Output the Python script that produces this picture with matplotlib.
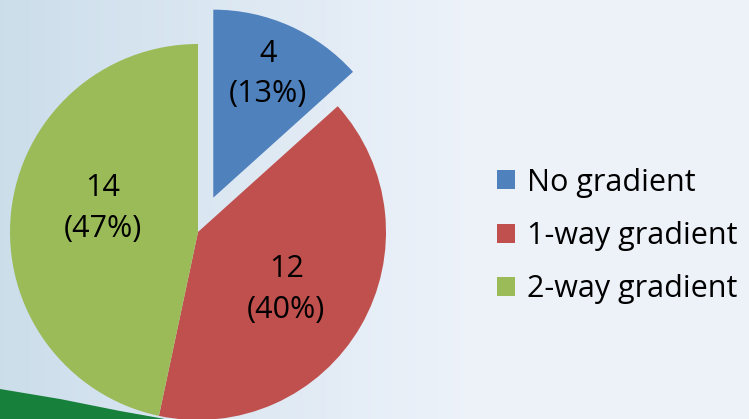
import numpy as np
from matplotlib import pyplot as plt
from matplotlib.patches import Polygon

# data
labels = ["No gradient", "1-way gradient", "2-way gradient"]
counts = [4, 12, 14]
colors = ["#4f81bd", "#c0504d", "#9bbb59"]
explode = [0.2, 0, 0]
label_dist = [0.72, 0.56, 0.52]
label_turn = [0, -3, -8]   # degrees, nudges label off the mid angle

plt.rcParams['font.family'] = ['Open Sans', 'DejaVu Sans']

W, H = 749, 419
R = 188
fig = plt.figure(figsize=(W / 100, H / 100), dpi=100)

# background: pale bluish gradient, green strip bottom left
bg = fig.add_axes([0, 0, 1, 1], zorder=0)
gx = np.linspace(0, 1, 200)
gy = np.linspace(0, 1, 100)
X, Y = np.meshgrid(gx, gy)
left = np.array([0.80, 0.87, 0.92])
right = np.array([0.93, 0.95, 0.98])
t = np.clip(X * 1.6, 0, 1)[..., None]
img = left * (1 - t) + right * t
bg.imshow(img, extent=(0, W, 0, H), aspect='auto', origin='lower')
bg.add_patch(Polygon([(0, 0), (0, 30), (60, 20), (120, 8), (165, 0)],
                     closed=True, color="#17803a", lw=0))
bg.set_xlim(0, W)
bg.set_ylim(0, H)
bg.axis('off')

ax = fig.add_axes([0, 0, 1, 1], zorder=1)

total = sum(counts)
# explode is in data units here, so scale by radius
wedges, _ = ax.pie(counts, colors=colors, explode=[e * R for e in explode],
                   startangle=90, counterclock=False, radius=R,
                   center=(198, 187), wedgeprops=dict(linewidth=0))
# pie() resets limits, so set them afterwards
ax.set_xlim(0, W)
ax.set_ylim(0, H)
ax.set_aspect('equal')
ax.axis('off')

for w, c, d, turn in zip(wedges, counts, label_dist, label_turn):
    ang = np.deg2rad((w.theta1 + w.theta2) / 2 + turn)
    cx, cy = w.center
    ax.text(cx + d * w.r * np.cos(ang), cy + d * w.r * np.sin(ang),
            f"{c}\n({round(100 * c / total)}%)", ha='center', va='center',
            fontsize=22, linespacing=1.45, color='black')

ax.legend(wedges, labels, loc='center left',
          bbox_to_anchor=(497 / W, 183 / H), bbox_transform=fig.transFigure,
          frameon=False, fontsize=22, handlelength=0.58, handleheight=0.58,
          handletextpad=0.4, labelspacing=0.76, borderpad=0, borderaxespad=0)

fig.savefig('out.png', dpi=100)
